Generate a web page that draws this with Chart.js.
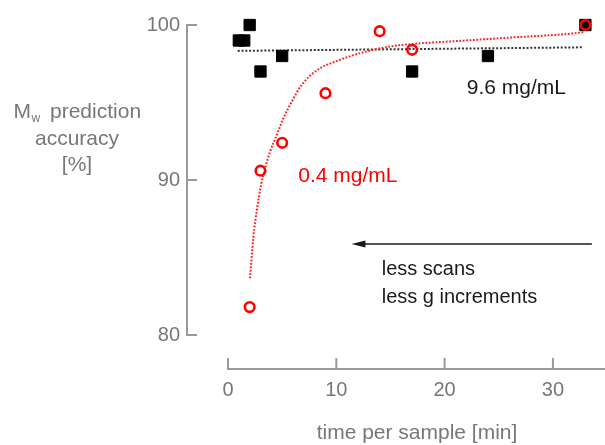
<!DOCTYPE html>
<html>
<head>
<meta charset="utf-8">
<script src="https://cdn.jsdelivr.net/npm/chart.js@4.4.1/dist/chart.umd.min.js"></script>
<style>
  html, body { margin: 0; padding: 0; background: #fff; }
  #wrap { width: 605px; height: 445px; }
</style>
</head>
<body>
<div id="wrap"><canvas id="chart" width="605" height="445"></canvas></div>
<script>
"use strict";

// 9.6 mg/mL — filled black squares + flat dotted fit
const highX = [1, 1.5, 2, 3, 5, 17, 24, 33];
const highY = [99, 99, 100, 97, 98, 97, 98, 100];
const highFitX = [0.9, 32.8];
const highFitY = [98.33, 98.56];

// 0.4 mg/mL — open red circles + saturating dotted fit
const lowX = [2, 3, 5, 9, 14, 17, 33];
const lowY = [81.8, 90.6, 92.4, 95.6, 99.6, 98.4, 100];
const lowFitX = [2.03, 2.34, 2.65, 3.05, 3.42, 3.88, 4.5, 5.11, 5.88, 6.8, 8.34, 9.88, 11.42, 12.95, 15.26, 17.1, 21.73, 26.3, 30.96, 32.8];
const lowFitY = [83.66, 86.3, 88.0, 89.68, 90.75, 91.83, 92.9, 93.98, 95.05, 96.13, 97.14, 97.63, 98.02, 98.32, 98.65, 98.78, 98.99, 99.2, 99.4, 99.53];

const xTicks = [0, 10, 20, 30];
const yTicks = [80, 90, 100];

// annotation anchors, in data units
const arrowX = [33.6, 11.4];
const arrowY = 85.87;
const noteLines = ["less scans", "less g increments"];
const noteX = 14.19, noteY = [83.87, 82.06];
const highLabel = "9.6 mg/mL", highLabelAt = [22.04, 95.53];
const lowLabel = "0.4 mg/mL", lowLabelAt = [6.49, 89.89];

const FONT = "'Liberation Sans', Arial, sans-serif";
const GREY_TXT = "#777";
const GREY_AX = "#9a9a9a";
const pts = (xs, ys) => xs.map((x, i) => ({ x, y: ys[i] }));

Chart.defaults.font.family = FONT;

// PowerPoint-style detached axes, titles and annotations
const decor = {
  id: "decor",
  beforeDatasetsDraw(chart) {
    const { ctx, chartArea: a, scales: { x, y } } = chart;
    ctx.save();
    ctx.strokeStyle = GREY_AX;
    ctx.lineWidth = 2;
    ctx.beginPath();
    ctx.moveTo(a.left, y.getPixelForValue(yTicks[0]));
    ctx.lineTo(a.left, y.getPixelForValue(yTicks[yTicks.length - 1]));
    yTicks.forEach((v) => { const p = y.getPixelForValue(v); ctx.moveTo(a.left - 1, p); ctx.lineTo(a.left + 10, p); });
    ctx.moveTo(x.getPixelForValue(xTicks[0]), a.bottom);
    ctx.lineTo(a.right, a.bottom);
    xTicks.forEach((v) => { const p = x.getPixelForValue(v); ctx.moveTo(p, a.bottom + 1); ctx.lineTo(p, a.bottom - 11); });
    ctx.stroke();
    ctx.restore();
  },
  afterDatasetsDraw(chart) {
    const { ctx, chartArea: a, scales: { x, y } } = chart;
    ctx.save();
    // y title (horizontal, with subscript w)
    ctx.fillStyle = GREY_TXT;
    ctx.textBaseline = "alphabetic";
    ctx.textAlign = "left";
    ctx.font = "21px " + FONT;
    ctx.fillText("M", 13.5, 117.5);
    ctx.fillText("prediction", 50, 117.5);
    ctx.font = "12px " + FONT;
    ctx.fillText("w", 31.5, 121.5);
    ctx.font = "21px " + FONT;
    ctx.textAlign = "center";
    ctx.fillText("accuracy", 77, 145);
    ctx.fillText("[%]", 77, 171);
    // x title, centred on the drawn axis line
    ctx.fillText("time per sample [min]", (x.getPixelForValue(xTicks[0]) + a.right) / 2 + 0.5, 439);

    // series labels
    ctx.textAlign = "left";
    ctx.fillStyle = "#1a1a1a";
    ctx.fillText(highLabel, x.getPixelForValue(highLabelAt[0]), y.getPixelForValue(highLabelAt[1]));
    ctx.fillStyle = "#ff0000";
    ctx.fillText(lowLabel, x.getPixelForValue(lowLabelAt[0]), y.getPixelForValue(lowLabelAt[1]));

    // arrow
    const ay = y.getPixelForValue(arrowY);
    const x0 = x.getPixelForValue(arrowX[0]), x1 = x.getPixelForValue(arrowX[1]);
    ctx.strokeStyle = "#1a1a1a";
    ctx.fillStyle = "#1a1a1a";
    ctx.lineWidth = 1.5;
    ctx.beginPath();
    ctx.moveTo(x0, ay);
    ctx.lineTo(x1 + 12, ay);
    ctx.stroke();
    ctx.beginPath();
    ctx.moveTo(x1, ay);
    ctx.lineTo(x1 + 14, ay - 3.5);
    ctx.lineTo(x1 + 14, ay + 3.5);
    ctx.closePath();
    ctx.fill();

    ctx.font = "20px " + FONT;
    noteLines.forEach((t, i) => ctx.fillText(t, x.getPixelForValue(noteX), y.getPixelForValue(noteY[i])));
    ctx.restore();
  },
};

new Chart(document.getElementById("chart"), {
  type: "scatter",
  data: {
    datasets: [
      { label: "0.4 mg/mL", data: pts(lowX, lowY), order: 0,
        pointStyle: "circle", pointRadius: 4.8, pointBorderWidth: 2.6,
        borderColor: "#ff0000", pointBorderColor: "#ff0000", pointBackgroundColor: "rgba(0,0,0,0)" },
      { label: "9.6 mg/mL", data: pts(highX, highY), order: 1,
        pointStyle: "rect", pointRadius: 8, pointBorderWidth: 1,
        pointBorderColor: "#000", pointBackgroundColor: "#000" },
      { label: "fit 0.4", data: pts(lowFitX, lowFitY), order: 2, showLine: true,
        borderColor: "#ff2020", borderWidth: 2, borderDash: [1.8, 1.6], pointRadius: 0,
        cubicInterpolationMode: "monotone" },
      { label: "fit 9.6", data: pts(highFitX, highFitY), order: 3, showLine: true,
        borderColor: "#333", borderWidth: 2, borderDash: [2, 1.8], pointRadius: 0 },
    ],
  },
  options: {
    responsive: false, animation: false, devicePixelRatio: 1,
    layout: { autoPadding: false, padding: { top: 5, right: 0, bottom: 0, left: 0 } },
    plugins: { legend: { display: false }, tooltip: { enabled: false } },
    scales: {
      x: {
        type: "linear", min: -3.786, max: 34.81,
        grid: { display: false, drawTicks: false }, border: { display: false },
        ticks: { color: GREY_TXT, font: { size: 20 }, padding: 9, autoSkip: false, maxRotation: 0 },
        afterBuildTicks: (s) => { s.ticks = xTicks.map((v) => ({ value: v })); },
        afterFit: (s) => { s.height = 76; s.paddingLeft = 0; s.paddingRight = 0; },
      },
      y: {
        type: "linear", min: 77.806, max: 101.29,
        grid: { display: false, drawTicks: false }, border: { display: false },
        ticks: { color: GREY_TXT, font: { size: 20 }, padding: 7, autoSkip: false },
        afterBuildTicks: (s) => { s.ticks = yTicks.map((v) => ({ value: v })); },
        afterFit: (s) => { s.width = 187; s.paddingTop = 0; s.paddingBottom = 0; },
      },
    },
  },
  plugins: [decor],
});
</script>
</body>
</html>
